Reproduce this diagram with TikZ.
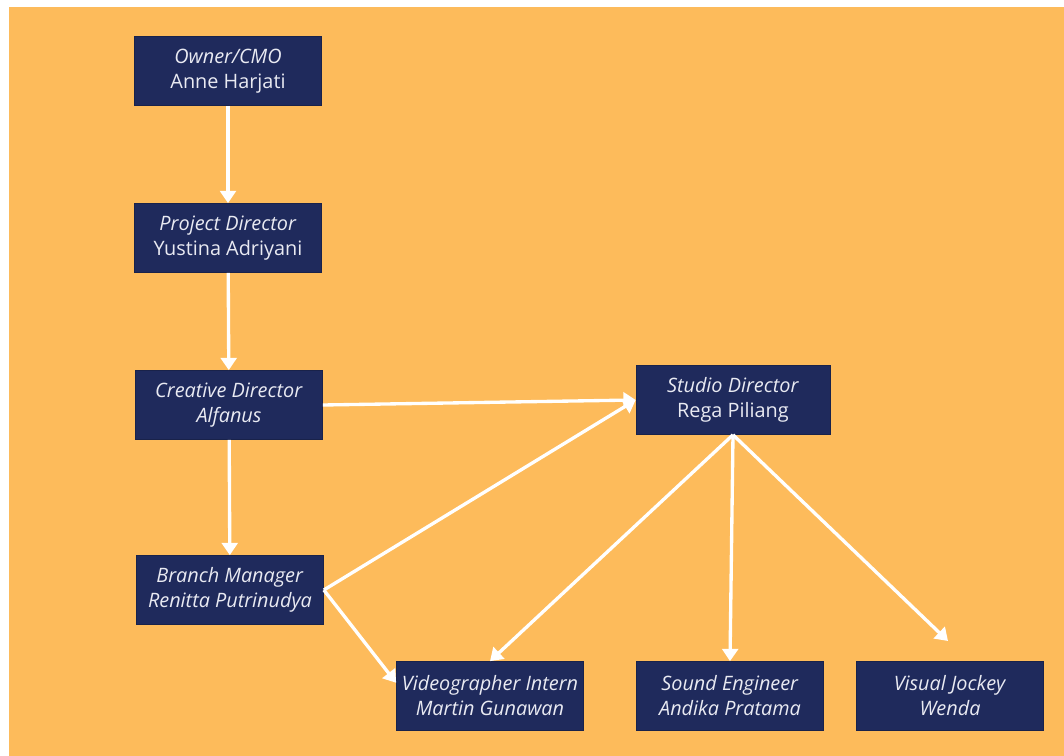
\documentclass[tikz,border=0pt]{standalone}
\usepackage{fontspec}
\setmainfont{Open Sans}
\usetikzlibrary{arrows.meta}

\definecolor{bgorange}{HTML}{FDBB5B}
\definecolor{boxnavy}{HTML}{1F2A5C}
\definecolor{boxtext}{HTML}{E9EAF2}

\tikzset{
    role/.style={fill=boxnavy, draw=boxnavy!80!black, text=boxtext, align=center,
                 minimum width=3.74cm, minimum height=1.38cm, inner sep=2pt,
                 font=\fontsize{11.3}{14.2}\selectfont},
    link/.style={->, white, line width=1.9pt}
}

\begin{document}
\begin{tikzpicture}[x=0.02cm, y=-0.02cm, >={Triangle[width=9pt,length=7pt]}]
    % background
    \fill[white] (0,0) rectangle (1064,756);
    \fill[bgorange] (9,7) rectangle (1064,756);

    % left column
    \node[role] (owner) at (228,71) {\textit{Owner/CMO}\\Anne Harjati};
    \node[role] (project) at (228,238) {\textit{Project Director}\\Yustina Adriyani};
    \node[role] (creative) at (229,405) {\textit{Creative Director}\\\textit{Alfanus}};
    \node[role] (branch) at (230,590) {\textit{Branch Manager}\\\textit{Renitta Putrinudya}};

    % studio
    \node[role, minimum width=3.88cm] (studio) at (733,400) {\textit{Studio Director}\\Rega Piliang};

    % bottom row
    \node[role] (video) at (490,696) {\textit{Videographer Intern}\\\textit{Martin Gunawan}};
    \node[role] (sound) at (730,696) {\textit{Sound Engineer}\\\textit{Andika Pratama}};
    \node[role] (vj) at (950,696) {\textit{Visual Jockey}\\\textit{Wenda}};
    \coordinate (vjtip) at (948,641);

    % links
    \draw[link] (owner) -- (project);
    \draw[link] (project) -- (creative);
    \draw[link] (creative) -- (branch);
    \draw[link] (creative.east) -- (studio.west);
    \draw[link] (branch.east) -- (studio.west);
    \draw[link] (branch.east) -- (video.172);
    \draw[link] (studio.south) -- (video.north);
    \draw[link] (studio.south) -- (sound.north);
    \draw[link] (studio.south) -- (vjtip);
\end{tikzpicture}
\end{document}
